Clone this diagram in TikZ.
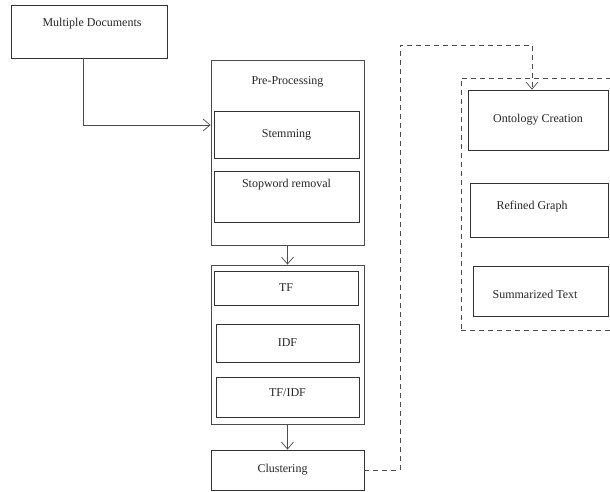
\documentclass[tikz,border=0pt]{standalone}
\usepackage{fontspec}
\setmainfont{Liberation Serif}
\usetikzlibrary{arrows.meta,calc}

\begin{document}
\begin{tikzpicture}[
  x=1pt, y=-1pt,
  font=\fontsize{12}{14}\selectfont, text=black!85,
  box/.style={draw=black!80, line width=0.8pt, fill=white, inner sep=0pt},
  grp/.style={draw=black!70, line width=0.8pt, inner sep=0pt},
  dgrp/.style={grp, dash pattern=on 5pt off 4pt},
  txt/.style={text=black!85, inner sep=0pt},
  arr/.style={-{Straight Barb[length=7pt,width=12pt]}, draw=black!70, line width=0.7pt},
  darr/.style={arr, dash pattern=on 5pt off 4pt}
]
\useasboundingbox (0,0) rectangle (610,491);
\clip (0,0) rectangle (610,491);

% ================= Input =================
\node[box, minimum width=156pt, minimum height=53pt,
  label={[txt, xshift=3pt, yshift=7.5pt]center:Multiple Documents}] (docs) at (89,31.5) {};

% ================= Pre-processing group =================
\node[grp, minimum width=153pt, minimum height=185pt,
  label={[txt, yshift=70.5pt]center:Pre-Processing}] (pre) at (287.5,152.5) {};
\node[box, minimum width=145pt, minimum height=47pt] (stem) at (286.5,134.5) {Stemming};
\node[box, minimum width=145pt, minimum height=51pt,
  label={[txt, yshift=11.5pt]center:Stopword removal}] (stop) at (286.5,196.5) {};

% ================= Weighting group =================
\node[grp, minimum width=153pt, minimum height=159pt] (weight) at (287.5,344.5) {};
\node[box, minimum width=144pt, minimum height=34pt] (tf) at (286,288) {TF};
\node[box, minimum width=143pt, minimum height=38pt] (idf) at (287.5,343) {IDF};
\node[box, minimum width=143pt, minimum height=40pt,
  label={[txt, yshift=4pt]center:TF/IDF}] (tfidf) at (287.5,397) {};

\node[box, minimum width=153pt, minimum height=40pt,
  label={[txt, xshift=-5pt]center:Clustering}] (clus) at (287.5,470) {};

% ================= Ontology group =================
\node[dgrp, minimum width=156pt, minimum height=252pt] (ontgrp) at (539,204) {};
\node[box, minimum width=140pt, minimum height=60pt] (onto) at (538,120) {Ontology Creation};
\node[box, minimum width=138pt, minimum height=54pt,
  label={[txt, xshift=-7pt, yshift=3pt]center:Refined Graph}] (graph) at (539,210) {};
\node[box, minimum width=135pt, minimum height=50pt,
  label={[txt, xshift=-5.5pt, yshift=-3pt]center:Summarized Text}] (summ) at (540.5,291) {};

% ================= Connectors =================
\coordinate (prein) at (pre.west |- 0,125);
\coordinate (ontin) at ($(onto.north)+(-6pt,0)$);
\draw[arr] (docs.south -| 83,0) |- (prein);
\draw[arr] (pre.south) -- (weight.north);
\draw[arr] (weight.south) -- (clus.north);
\draw[darr] (clus.east) -- (400,470) -- (400,45) -| (ontin);

\end{tikzpicture}
\end{document}
